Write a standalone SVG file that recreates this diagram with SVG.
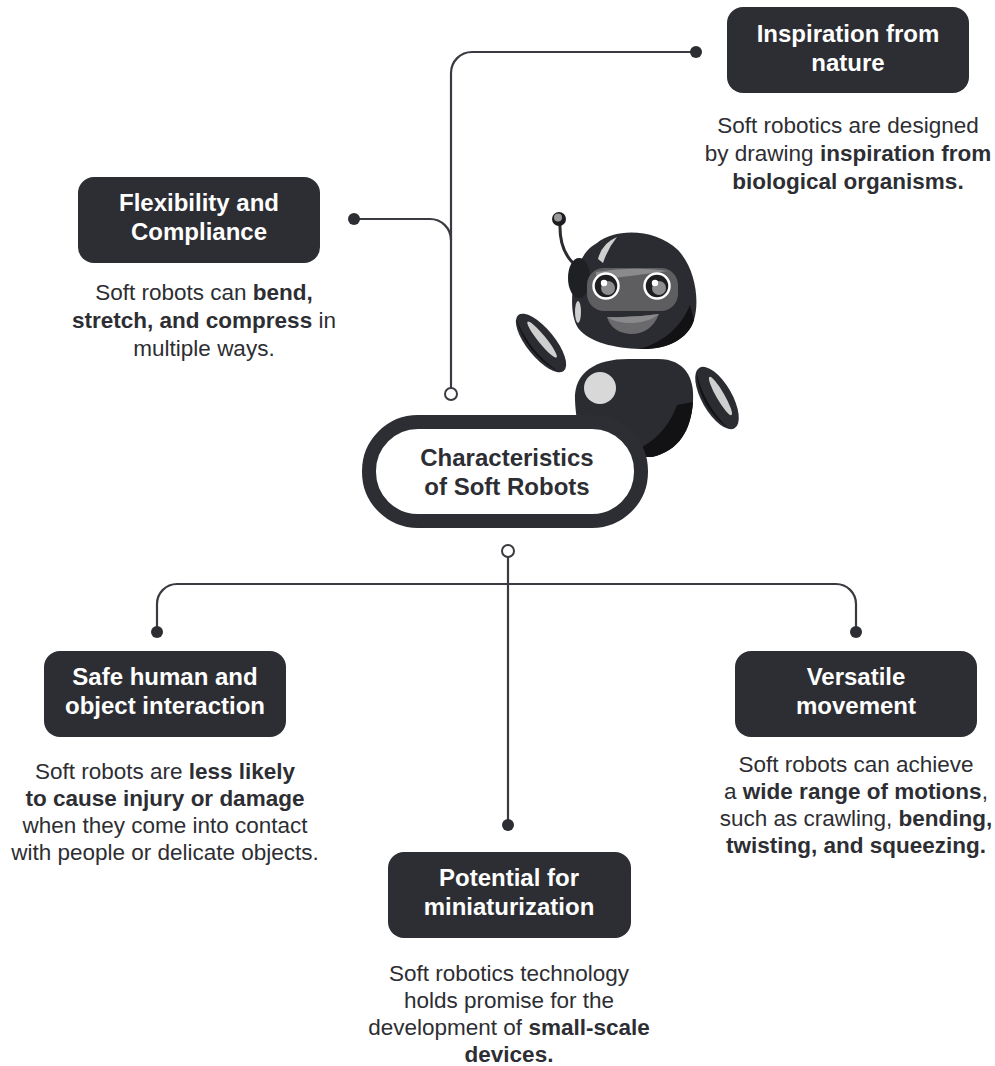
<svg xmlns="http://www.w3.org/2000/svg" width="995" height="1066" viewBox="0 0 995 1066">
  <style>
    .box { fill: #2d2e33; }
    .title { font-family: "Liberation Sans", Arial, sans-serif; font-weight: bold; font-size: 24px; fill: #ffffff; text-anchor: middle; }
    .desc { font-family: "Liberation Sans", Arial, sans-serif; font-size: 22.5px; fill: #2d2e33; text-anchor: middle; }
    .desc .b { font-weight: bold; }
    .wire { fill: none; stroke: #3a3b40; stroke-width: 2.2; }
    .dot { fill: #2d2e33; }
    .ring { fill: #ffffff; stroke: #3a3b40; stroke-width: 2; }
  </style>

  <rect width="995" height="1066" fill="#ffffff"/>

  <!-- connectors -->
  <g id="connectors">
    <path class="wire" d="M451 388 L451 73 A21 21 0 0 1 472 52 L696 52"/>
    <path class="wire" d="M354 219 L430 219 A21 21 0 0 1 451 240"/>
    <path class="wire" d="M508 557 L508 825"/>
    <path class="wire" d="M157 632 L157 604 A20 20 0 0 1 177 584 L836 584 A20 20 0 0 1 856 604 L856 632"/>
    <circle class="dot" cx="696" cy="52" r="6"/>
    <circle class="dot" cx="354" cy="219" r="6"/>
    <circle class="dot" cx="157" cy="632" r="6"/>
    <circle class="dot" cx="856" cy="632" r="6"/>
    <circle class="dot" cx="508" cy="825" r="6"/>
    <circle class="ring" cx="451" cy="394" r="6"/>
    <circle class="ring" cx="508" cy="551" r="6"/>
  </g>

  <!-- robot mascot -->
  <g id="robot">
    <!-- left arm -->
    <g transform="translate(541 343) rotate(51)">
      <ellipse cx="0" cy="0" rx="36" ry="14" fill="#2b2c31"/>
      <path d="M-35 4 Q0 19 35 4 Q0 15 -35 4 Z" fill="#121214"/>
      <ellipse cx="-2" cy="-3" rx="23" ry="4" fill="#cfcfcf"/>
    </g>
    <!-- right arm -->
    <g transform="translate(717 398) rotate(60)">
      <ellipse cx="0" cy="0" rx="35" ry="15" fill="#2b2c31"/>
      <path d="M-33 5 Q0 20 33 5 Q0 15 -33 5 Z" fill="#121214"/>
      <ellipse cx="0" cy="-4" rx="22" ry="4" fill="#cfcfcf"/>
    </g>
    <!-- body -->
    <path d="M575 400 C574 372 596 359 628 359 L658 359 C685 359 695 378 693 402 C691 430 679 451 652 457 L600 457 C582 450 576 425 575 400 Z" fill="#2b2c31"/>
    <path d="M693 402 C691 430 679 451 652 457 L620 457 C650 447 668 430 677 405 Z" fill="#121214"/>
    <circle cx="600" cy="388" r="16" fill="#d8d8d8"/>
    <!-- antenna -->
    <path d="M560 224 Q559 254 579 268" fill="none" stroke="#2b2c31" stroke-width="3"/>
    <circle cx="559" cy="219" r="7" fill="#1e1e22"/>
    <circle cx="558" cy="217.5" r="4" fill="#9a9a9a"/>
    <!-- head -->
    <path d="M597 243 C615 228 655 228 678 250 C695 268 700 300 694 320 C688 340 665 350 640 349 C615 348 590 343 578 328 C568 312 572 280 580 262 C585 252 590 247 597 243 Z" fill="#2b2c31"/>
    <path d="M694 320 C688 340 665 350 640 349 C660 343 680 330 690 305 Z" fill="#121214"/>
    <ellipse cx="579" cy="278" rx="11" ry="20" fill="#1f2024"/>
    <path d="M598 259 Q602 243 617 237 Q608 248 603 263 Z" fill="#cfcfcf"/>
    <ellipse cx="578" cy="312" rx="3" ry="11" fill="#cfcfcf"/>
    <!-- visor -->
    <rect x="587" y="268" width="91" height="43" rx="17" fill="#5e5e61"/>
    <path d="M596 272 Q632 266 668 271 Q632 276 596 280 Z" fill="#8a8a8c"/>
    <!-- eyes -->
    <circle cx="606" cy="286" r="12.5" fill="#1e1e22" stroke="#ffffff" stroke-width="2.5"/>
    <circle cx="608" cy="288" r="7" fill="#8d8d8f"/>
    <circle cx="604" cy="283" r="3.2" fill="#ffffff"/>
    <circle cx="657" cy="286" r="12.5" fill="#1e1e22" stroke="#ffffff" stroke-width="2.5"/>
    <circle cx="659" cy="288" r="7" fill="#8d8d8f"/>
    <circle cx="655" cy="283" r="3.2" fill="#ffffff"/>
    <!-- smile -->
    <path d="M607 317 Q633 318 659 314 Q651 334 631 334 Q612 333 607 317 Z" fill="#6a6a6d"/>
    <path d="M607 317 Q633 318 659 314 Q650 322 633 323 Q615 323 607 317 Z" fill="#8a8a8c"/>
  </g>

  <!-- central node -->
  <g id="node-center">
    <rect x="369" y="422" width="272" height="99" rx="49" fill="#ffffff" stroke="#2d2e33" stroke-width="14"/>
    <text class="title" x="507" y="466" style="fill:#2d2e33">Characteristics</text>
    <text class="title" x="507" y="495" style="fill:#2d2e33">of Soft Robots</text>
  </g>

  <!-- Inspiration from nature -->
  <g id="node-nature">
    <rect class="box" x="727" y="7" width="242" height="86" rx="16"/>
    <text class="title" x="848" y="42">Inspiration from</text>
    <text class="title" x="848" y="71">nature</text>
    <text class="desc" x="848" y="133">Soft robotics are designed</text>
    <text class="desc" x="848" y="161">by drawing <tspan class="b">inspiration from</tspan></text>
    <text class="desc" x="848" y="189"><tspan class="b">biological organisms.</tspan></text>
  </g>

  <!-- Flexibility and Compliance -->
  <g id="node-flexibility">
    <rect class="box" x="78" y="177" width="242" height="86" rx="16"/>
    <text class="title" x="199" y="211">Flexibility and</text>
    <text class="title" x="199" y="240">Compliance</text>
    <text class="desc" x="204" y="300">Soft robots can <tspan class="b">bend,</tspan></text>
    <text class="desc" x="204" y="328"><tspan class="b">stretch, and compress</tspan> in</text>
    <text class="desc" x="204" y="356">multiple ways.</text>
  </g>

  <!-- Safe human and object interaction -->
  <g id="node-safe">
    <rect class="box" x="44" y="651" width="242" height="86" rx="16"/>
    <text class="title" x="165" y="685">Safe human and</text>
    <text class="title" x="165" y="714">object interaction</text>
    <text class="desc" x="165" y="779">Soft robots are <tspan class="b">less likely</tspan></text>
    <text class="desc" x="165" y="806"><tspan class="b">to cause injury or damage</tspan></text>
    <text class="desc" x="165" y="833">when they come into contact</text>
    <text class="desc" x="165" y="860">with people or delicate objects.</text>
  </g>

  <!-- Potential for miniaturization -->
  <g id="node-miniaturization">
    <rect class="box" x="388" y="852" width="243" height="86" rx="16"/>
    <text class="title" x="509" y="886">Potential for</text>
    <text class="title" x="509" y="915">miniaturization</text>
    <text class="desc" x="509" y="981">Soft robotics technology</text>
    <text class="desc" x="509" y="1008">holds promise for the</text>
    <text class="desc" x="509" y="1035">development of <tspan class="b">small-scale</tspan></text>
    <text class="desc" x="509" y="1062"><tspan class="b">devices.</tspan></text>
  </g>

  <!-- Versatile movement -->
  <g id="node-versatile">
    <rect class="box" x="735" y="651" width="242" height="86" rx="16"/>
    <text class="title" x="856" y="685">Versatile</text>
    <text class="title" x="856" y="714">movement</text>
    <text class="desc" x="856" y="772">Soft robots can achieve</text>
    <text class="desc" x="856" y="799">a <tspan class="b">wide range of motions</tspan>,</text>
    <text class="desc" x="856" y="826">such as crawling, <tspan class="b">bending,</tspan></text>
    <text class="desc" x="856" y="853"><tspan class="b">twisting, and squeezing.</tspan></text>
  </g>
</svg>
